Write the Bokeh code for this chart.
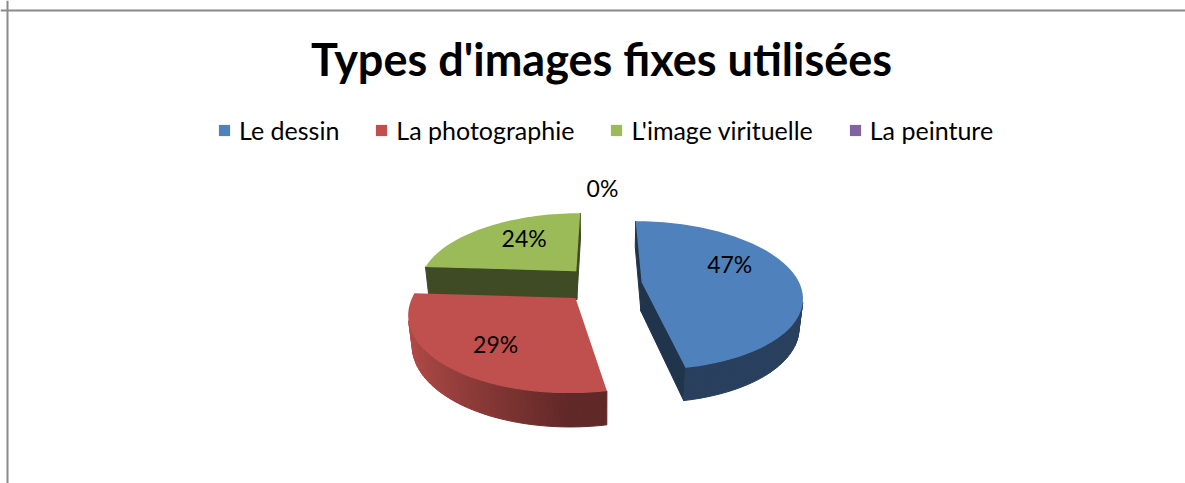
import math
from bokeh.plotting import figure
from bokeh.models import ColumnDataSource, Legend, LegendItem, Range1d, Span
from bokeh.core.properties import value
from bokeh.embed import file_html
from bokeh.resources import INLINE

# ---------------- data ----------------
title_text = "Types d'images fixes utilisées"
categories = ["Le dessin", "La photographie", "L'image virituelle", "La peinture"]
percentages = [47, 29, 24, 0]
colors = ["#4F81BD", "#C0504D", "#9BBB59", "#8064A2"]

# ---------------- layout / style ----------------
W, H = 1185, 483
FONT = "Lato"
CX, CY = 602.0, 283.5          # pie centre (pixels inside the figure)
F, DIST = 158.0, 5.0           # scale, camera distance (radius units)
SIN_A = 0.4587                 # view elevation
COS_A = math.sqrt(1 - SIN_A ** 2)
EXPLODE = 0.25                 # explosion distance (radius units)
THICK = 0.21                   # pie thickness (radius units)
LABEL_R = [0.57, 0.65, 0.55, 1.48]
LABEL_DY = [-14, 4, -8, 0]
CAM = (0.0, DIST * SIN_A, -DIST * COS_A)


def project(X, Y, Z):
    depth = DIST - Y * SIN_A + Z * COS_A
    up = Y * COS_A + Z * SIN_A
    return CX + F * DIST * X / depth, CY - F * DIST * up / depth


def cam_depth(X, Y, Z):
    return DIST - Y * SIN_A + Z * COS_A


def shade(hex_color, k):
    r, g, b = (int(hex_color[i:i + 2], 16) for i in (1, 3, 5))
    return "#%02x%02x%02x" % tuple(max(0, min(255, int(round(c * k)))) for c in (r, g, b))


def faces_visible(nx, nz, P):
    return nx * (CAM[0] - P[0]) + nz * (CAM[2] - P[2]) > 0


p = figure(width=W, height=H, x_range=Range1d(0, W), y_range=Range1d(H, 0),
           output_backend="svg", toolbar_location=None, min_border=0,
           x_axis_location=None, y_axis_location=None, outline_line_color=None,
           background_fill_color="white", border_fill_color="white")
p.grid.visible = False

# chart frame (top and left edges visible in the reference crop)
p.add_layout(Span(location=10, dimension="width", line_color="#8a8a8a", line_width=2))
p.add_layout(Span(location=7, dimension="height", line_color="#8a8a8a", line_width=2))

total = float(sum(percentages))
starts, ends = [], []
acc = 0.0
for v in percentages:
    starts.append(acc * 360.0 / total)
    acc += v
    ends.append(acc * 360.0 / total)

order = []
for i in range(len(percentages)):
    mid = math.radians((starts[i] + ends[i]) / 2.0)
    order.append((EXPLODE * math.cos(mid), i))
order.sort(reverse=True)  # far slices first

top_renderers = {}
label_x, label_y, label_t = [], [], []

for _, i in order:
    t1, t2 = starts[i], ends[i]
    mid = math.radians((t1 + t2) / 2.0)
    ox, oz = EXPLODE * math.sin(mid), EXPLODE * math.cos(mid)
    col = colors[i]
    n = max(2, int((t2 - t1) / 2) + 2)
    ts = [math.radians(t1 + (t2 - t1) * k / (n - 1)) for k in range(n)]

    items = []  # (depth, xs, ys, color)
    if t2 > t1:
        # curved outer side
        for a, b in zip(ts[:-1], ts[1:]):
            tm = (a + b) / 2.0
            P = (ox + math.sin(tm), -THICK / 2, oz + math.cos(tm))
            if faces_visible(math.sin(tm), math.cos(tm), P):
                pts = [(ox + math.sin(a), 0, oz + math.cos(a)),
                       (ox + math.sin(b), 0, oz + math.cos(b)),
                       (ox + math.sin(b), -THICK, oz + math.cos(b)),
                       (ox + math.sin(a), -THICK, oz + math.cos(a))]
                sp = [project(*q) for q in pts]
                k = 0.5 + 0.45 * max(0.0, math.cos(tm - math.radians(270)))
                items.append((cam_depth(*P), [s[0] for s in sp], [s[1] for s in sp], shade(col, k)))
        # radial walls
        for t, nang in ((math.radians(t1), math.radians(t1 - 90)), (math.radians(t2), math.radians(t2 + 90))):
            P = (ox + 0.5 * math.sin(t), -THICK / 2, oz + 0.5 * math.cos(t))
            if faces_visible(math.sin(nang), math.cos(nang), P):
                pts = [(ox, 0, oz), (ox + math.sin(t), 0, oz + math.cos(t)),
                       (ox + math.sin(t), -THICK, oz + math.cos(t)), (ox, -THICK, oz)]
                sp = [project(*q) for q in pts]
                items.append((cam_depth(*P), [s[0] for s in sp], [s[1] for s in sp], shade(col, 0.4)))
    items.sort(key=lambda it: -it[0])
    if items:
        src = ColumnDataSource(dict(xs=[it[1] for it in items], ys=[it[2] for it in items],
                                    c=[it[3] for it in items]))
        p.patches("xs", "ys", source=src, fill_color="c", line_color="c", line_width=1)

    # top face
    pts = [project(ox, 0, oz)] + [project(ox + math.sin(t), 0, oz + math.cos(t)) for t in ts]
    top_renderers[i] = p.patch([q[0] for q in pts], [q[1] for q in pts],
                               fill_color=col, line_color=None)

    # label
    lx, ly = project(ox + LABEL_R[i] * math.sin(mid), 0, oz + LABEL_R[i] * math.cos(mid))
    label_x.append(lx)
    label_y.append(ly + LABEL_DY[i])
    label_t.append("%d%%" % percentages[i])

p.text(x="x", y="y", text="t", source=ColumnDataSource(dict(x=label_x, y=label_y, t=label_t)),
       text_font=value(FONT), text_font_size="23px", text_align="center",
       text_baseline="middle", text_color="black")

# title
p.text(x=[601], y=[58], text=[title_text], text_font=value(FONT), text_font_style="bold",
       text_font_size="45px", text_align="center", text_baseline="alphabetic", text_color="black")

legend = Legend(items=[LegendItem(label=categories[i], renderers=[top_renderers[i]]) for i in range(len(categories))],
                orientation="horizontal", location=(217, 338), glyph_width=14, glyph_height=14,
                label_standoff=8, spacing=35, padding=0, margin=0,
                border_line_color=None, background_fill_alpha=0,
                label_text_font=FONT, label_text_font_size="25px", label_text_color="black")
p.add_layout(legend)

open("out.html", "w").write(file_html(p, INLINE))
